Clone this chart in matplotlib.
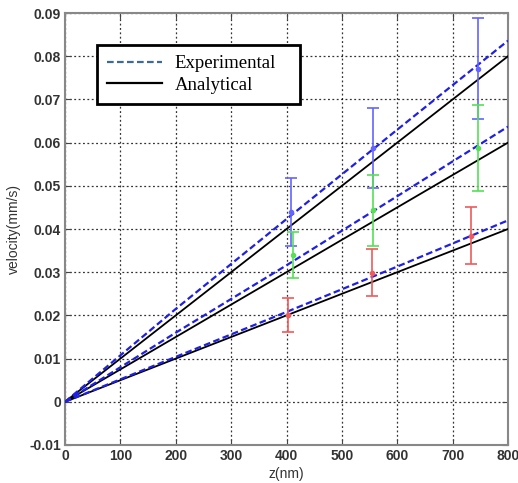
#!/usr/bin/env python3
"""Velocity vs z: experimental fits, analytical lines and measured points."""

import matplotlib
matplotlib.use('Agg')
import matplotlib.pyplot as plt
from matplotlib.lines import Line2D

# Line curves (z in nm, velocity in mm/s)
z_line = [0, 200, 400, 600, 800]
exp_top = [0, 0.0215, 0.0423, 0.0630, 0.0836]
exp_mid = [0, 0.0160, 0.0316, 0.0476, 0.0637]
exp_low = [0, 0.0104, 0.0208, 0.0313, 0.0420]
ana_top = [0, 0.0200, 0.0400, 0.0600, 0.0800]
ana_mid = [0, 0.0150, 0.0300, 0.0450, 0.0600]
ana_low = [0, 0.0100, 0.0200, 0.0300, 0.0400]

# Measured points with error bars
blue_z = [408, 556, 745]
blue_v = [0.0439, 0.0587, 0.0771]
blue_err = [0.0078, 0.0093, 0.0117]
green_z = [412, 556, 745]
green_v = [0.0340, 0.0443, 0.0587]
green_err = [0.0053, 0.0083, 0.0100]
red_z = [402, 554, 733]
red_v = [0.0201, 0.0299, 0.0384]
red_err = [0.0039, 0.0055, 0.0066]

fig = plt.figure(figsize=(5.18, 4.83), dpi=100)
ax = fig.add_axes([0.1255, 0.0787, 0.8552, 0.8943])

for ys in (ana_top, ana_mid, ana_low):
    ax.plot(z_line, ys, color='black', linewidth=1.3, zorder=3)
for ys in (exp_top, exp_mid, exp_low):
    ax.plot(z_line, ys, color='#1f1fe6', linewidth=1.6,
            linestyle=(0, (3, 1.5)), zorder=4)

for zs, vs, es, col in ((blue_z, blue_v, blue_err, '#6464ff'),
                        (green_z, green_v, green_err, '#55e055'),
                        (red_z, red_v, red_err, '#f05a5a')):
    ax.errorbar(zs, vs, yerr=es, fmt='o', color=col, markersize=3,
                capsize=4.5, elinewidth=1.2, capthick=1.2, zorder=5)

ax.set_xlim(0, 800)
ax.set_ylim(-0.01, 0.09)
ax.set_xticks(range(0, 801, 100))
ax.set_yticks([-0.01, 0, 0.01, 0.02, 0.03, 0.04, 0.05, 0.06, 0.07, 0.08, 0.09])
ax.set_yticklabels(['-0.01', '0', '0.01', '0.02', '0.03', '0.04', '0.05',
                    '0.06', '0.07', '0.08', '0.09'])

ax.grid(True, color='black', linestyle=(0, (1.5, 2)), linewidth=0.9, alpha=0.8)
ax.tick_params(direction='in', top=True, right=True, length=4, pad=3,
               labelsize=10, labelcolor='#333333', color='#444444')
for lab in ax.get_xticklabels() + ax.get_yticklabels():
    lab.set_fontfamily('Liberation Sans')
    lab.set_fontweight('bold')
for sp in ax.spines.values():
    sp.set_color('#888888')
    sp.set_linewidth(1.5)

ax.set_xlabel('z(nm)', fontsize=10, family='Liberation Sans', color='#333333',
              labelpad=3)
ax.set_ylabel('velocity(mm/s)', fontsize=10, family='Liberation Sans',
              color='#333333', labelpad=6)

# legend box stretched to the reference width
handles = [Line2D([], [], color='#3d6b91', linestyle=(0, (3, 1.5)), linewidth=1.6),
           Line2D([], [], color='black', linewidth=1.6)]
leg = ax.legend(handles, ['Experimental', 'Analytical'], loc='upper left',
                bbox_to_anchor=(0.072, 0.926, 0.458, 0.0), mode='expand',
                borderaxespad=0,
                prop={'family': 'Liberation Serif', 'size': 13.5},
                fancybox=False, framealpha=1, edgecolor='black',
                handlelength=2.9, borderpad=0.55, labelspacing=0.22,
                handletextpad=0.7)
leg.get_frame().set_linewidth(2)
leg.set_zorder(10)

fig.savefig('out.png', dpi=100)
plt.close(fig)
